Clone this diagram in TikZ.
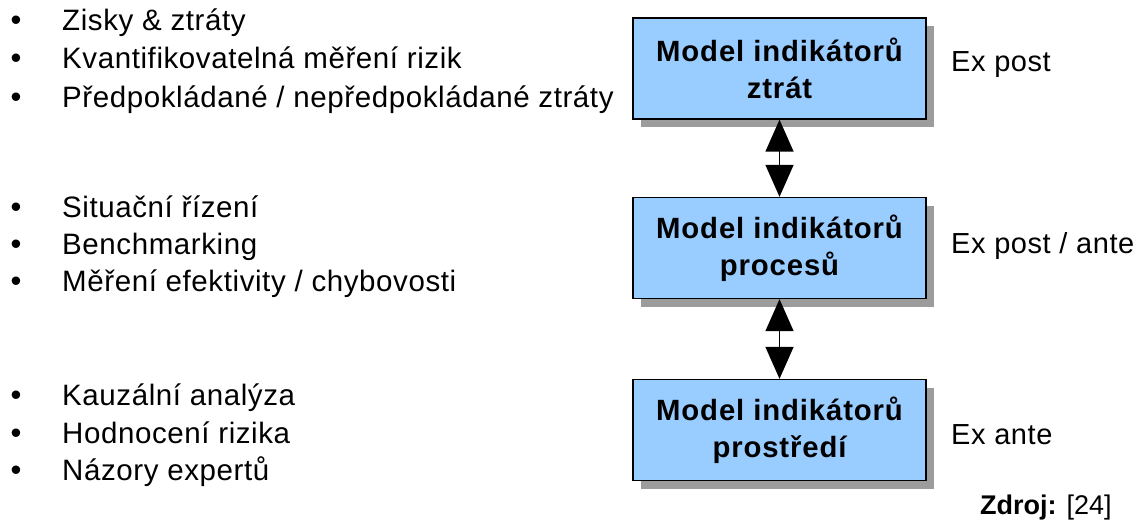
\documentclass[tikz,border=0pt]{standalone}
\usepackage{fontspec}
\setmainfont{Liberation Sans}
\newfontfamily\lsfont[LetterSpace=2]{Liberation Sans}
\newfontfamily\bxfont[LetterSpace=3]{Liberation Sans}
\usetikzlibrary{arrows.meta,shadows}
\definecolor{boxblue}{HTML}{99CCFF}
\definecolor{shadowgray}{HTML}{9C9C9C}
\tikzset{
  modelbox/.style={draw=black, line width=1.3pt, fill=boxblue,
    minimum width=293pt, minimum height=101pt, inner sep=0pt,
    align=center, font=\bxfont\bfseries\fontsize{29.3}{37}\selectfont,
    drop shadow={shadow xshift=8pt, shadow yshift=-8pt, fill=shadowgray, opacity=1}},
  itemtext/.style={anchor=base west, inner sep=0pt, font=\lsfont\fontsize{29.5}{35}\selectfont},
  bullet/.style={anchor=base, inner sep=0pt, font=\lsfont\fontsize{31}{35}\selectfont},
  sidetext/.style={anchor=base west, inner sep=0pt, font=\lsfont\fontsize{29}{35}\selectfont},
  link/.style={line width=1.4pt, {Triangle[width=28pt,length=32pt]}-{Triangle[width=28pt,length=32pt]}}
}
\begin{document}
\begin{tikzpicture}[x=1pt,y=-1pt]
\useasboundingbox (0,0) rectangle (1142,519);
% boxes
\node[modelbox] (b1) at (779.5,68.5) {Model indikátorů\\ztrát};
\node[modelbox] (b2) at (779.5,248) {Model indikátorů\\procesů};
\node[modelbox] (b3) at (779.5,430) {Model indikátorů\\prostředí};
\draw[link] (b1.south) -- (b2.north);
\draw[link] (b2.south) -- (b3.north);
% side labels
\node[sidetext] (s1) at (951,71) {Ex post};
\node[sidetext] (s2) at (951,253) {Ex post / ante};
\node[sidetext] (s3) at (951,444) {Ex ante};
\node[anchor=base west, inner sep=0pt, font=\fontsize{27}{30}\selectfont] (src) at (980,514) {\textbf{Zdroj:} [24]};
% group 1
\node[bullet] (u1) at (16,31) {•};
\node[itemtext] (t1) at (62,31) {Zisky \& ztráty};
\node[bullet] (u2) at (16,69) {•};
\node[itemtext] (t2) at (62,69) {Kvantifikovatelná měření rizik};
\node[bullet] (u3) at (16,107) {•};
\node[itemtext] (t3) at (62,107) {Předpokládané / nepředpokládané ztráty};
% group 2
\node[bullet] (u4) at (16,217) {•};
\node[itemtext] (t4) at (62,217) {Situační řízení};
\node[bullet] (u5) at (16,254) {•};
\node[itemtext] (t5) at (62,254) {Benchmarking};
\node[bullet] (u6) at (16,291) {•};
\node[itemtext] (t6) at (62,291) {Měření efektivity / chybovosti};
% group 3
\node[bullet] (u7) at (16,405) {•};
\node[itemtext] (t7) at (62,405) {Kauzální analýza};
\node[bullet] (u8) at (16,443) {•};
\node[itemtext] (t8) at (62,443) {Hodnocení rizika};
\node[bullet] (u9) at (16,480) {•};
\node[itemtext] (t9) at (62,480) {Názory expertů};
\end{tikzpicture}
\end{document}
